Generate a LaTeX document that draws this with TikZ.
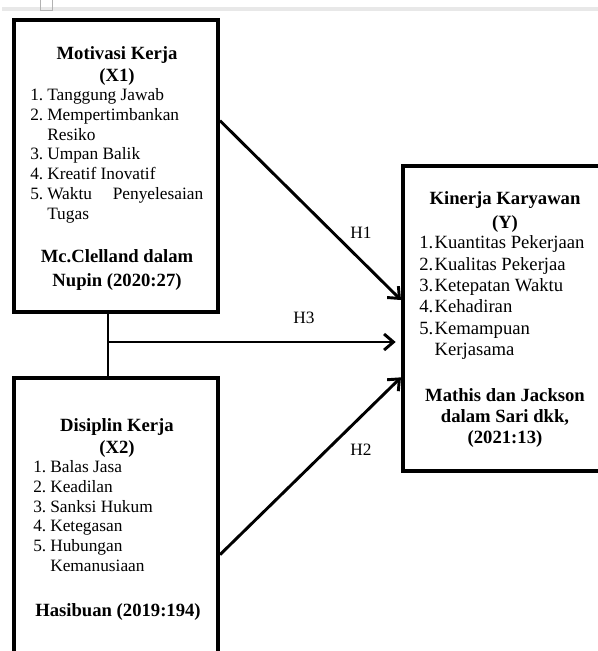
\documentclass[tikz,border=0pt]{standalone}
\usepackage{fontspec}
\setmainfont{Liberation Serif}
\usetikzlibrary{arrows.meta}

\tikzset{
  box/.style={draw, line width=3pt, minimum width=153pt, inner sep=0pt},
  ttl/.style={align=center, inner sep=0pt, font=\fontsize{14}{16.5}\selectfont\bfseries},
  lst/.style={anchor=west, inner sep=0pt, font=\fontsize{13}{14.8}\selectfont},
  hyp/.style={inner sep=0pt, font=\fontsize{13}{15}\selectfont},
  jalur/.style={line width=2.2pt, -{Straight Barb[length=7pt,width=12pt]}},
}

\begin{document}
\begin{tikzpicture}[x=0.75pt,y=-0.75pt]
    \useasboundingbox (0,0) rectangle (598,651);
    \clip (0,0) rectangle (598,651);
    % Strip abu-abu di atas
    \fill[gray!18] (2,6.5) rectangle (598,10.5);
    \draw[gray!60, line width=0.6pt] (40,0) -- (40,10) -- (52,10) -- (52,0);
    % Kotak variabel
    \node[box, minimum height=219pt] (x1) at (116,166) {};
    \node[box, minimum height=213pt] (x2) at (116,520) {};
    \node[box, minimum height=228.75pt] (y) at (505,318.5) {};
    % Isi kotak X1
    \node[ttl] (x1t) at (117,66) {Motivasi Kerja\\(X1)};
    \node[lst] (x1l) at (30,156) {\begin{tabular}{@{}r@{\hspace{3pt}}l@{}}
        1. & Tanggung Jawab\\
        2. & Mempertimbankan\\
           & Resiko\\
        3. & Umpan Balik\\
        4. & Kreatif Inovatif\\
        5. & \makebox[117pt][s]{Waktu Penyelesaian}\\
           & Tugas
      \end{tabular}};
    \node[ttl, font=\fontsize{14}{18}\selectfont\bfseries] (x1s) at (117,270) {Mc.Clelland dalam\\Nupin (2020:27)};
    % Isi kotak X2
    \node[ttl] (x2t) at (117,438.5) {Disiplin Kerja\\(X2)};
    \node[lst] (x2l) at (33,518) {\begin{tabular}{@{}r@{\hspace{3pt}}l@{}}
        1. & Balas Jasa\\
        2. & Keadilan\\
        3. & Sanksi Hukum\\
        4. & Ketegasan\\
        5. & Hubungan\\
           & Kemanusiaan
      \end{tabular}};
    \node[ttl] (x2s) at (118,612) {Hasibuan (2019:194)};
    % Isi kotak Y
    \node[ttl, font=\fontsize{14}{18}\selectfont\bfseries] (yt) at (505,212) {Kinerja Karyawan\\(Y)};
    \node[lst, font=\fontsize{14}{16}\selectfont] (yl) at (419,298) {\begin{tabular}{@{}r@{\hspace{1pt}}l@{}}
        1. & Kuantitas Pekerjaan\\
        2. & Kualitas Pekerjaa\\
        3. & Ketepatan Waktu\\
        4. & Kehadiran\\
        5. & Kemampuan\\
           & Kerjasama
      \end{tabular}};
    \node[ttl, font=\fontsize{14}{16}\selectfont\bfseries] (ys) at (505,418) {Mathis dan Jackson\\dalam Sari dkk,\\(2021:13)};
    % Garis penghubung X1 - X2
    \coordinate (cab) at (108,342);
    \draw[line width=2.2pt] (x1.south -| cab) -- (x2.north -| cab);
    % Panah hipotesis
    \draw[jalur] (cab) -- ([xshift=-4pt]cab -| y.west);
    \draw[jalur] ([yshift=-77pt]x1.north east) -- ([yshift=-102pt]y.north west);
    \draw[jalur] ([yshift=-134pt]x2.north east) -- ([yshift=-160pt]y.north west);
    % Label H
    \node[hyp] (h1) at (361,233) {H1};
    \node[hyp] (h3) at (304,318) {H3};
    \node[hyp] (h2) at (361,450) {H2};
\end{tikzpicture}
\end{document}
